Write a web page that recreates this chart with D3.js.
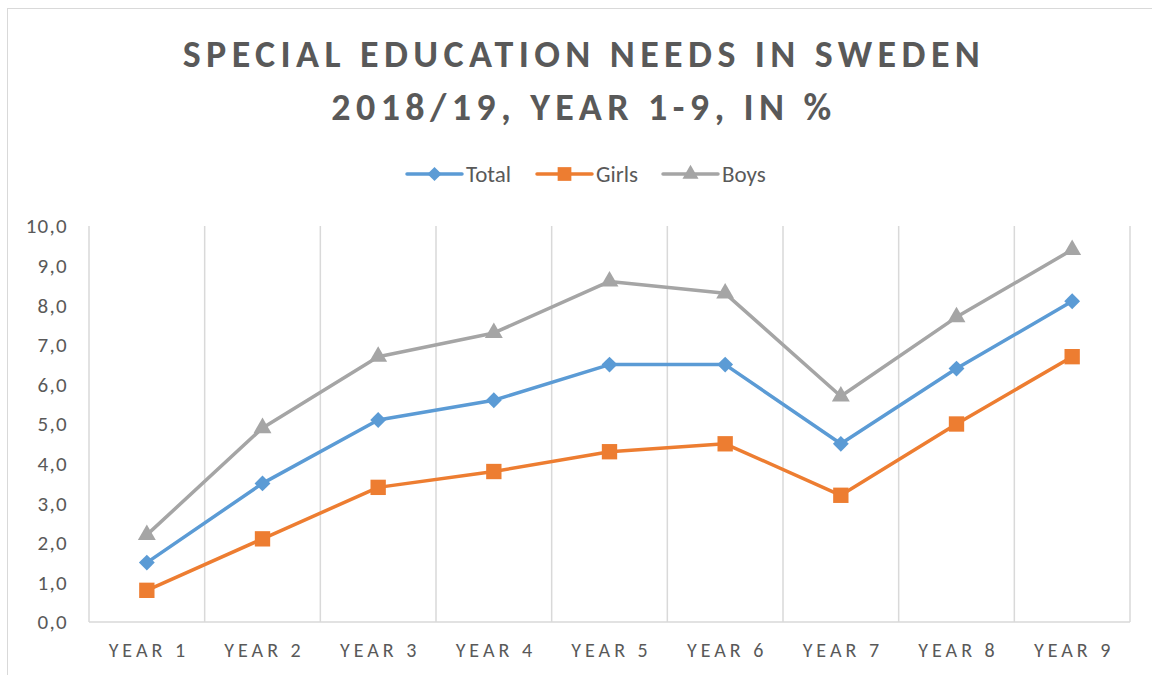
<!DOCTYPE html>
<html><head><meta charset="utf-8">
<script src="https://cdn.jsdelivr.net/npm/d3@7"></script>
<style>body{margin:0;background:#fff;}svg{display:block;}</style>
</head><body>
<svg id="c" width="1152" height="675"></svg>
<script>
const categories = ["YEAR 1","YEAR 2","YEAR 3","YEAR 4","YEAR 5","YEAR 6","YEAR 7","YEAR 8","YEAR 9"];
const totalValues = [1.5, 3.5, 5.1, 5.6, 6.5, 6.5, 4.5, 6.4, 8.1];
const girlsValues = [0.8, 2.1, 3.4, 3.8, 4.3, 4.5, 3.2, 5.0, 6.7];
const boysValues  = [2.2, 4.9, 6.7, 7.3, 8.6, 8.3, 5.7, 7.7, 9.4];
const yTicks = [0,1,2,3,4,5,6,7,8,9,10];
const seriesNames = ["Total","Girls","Boys"];
const titleLines = ["SPECIAL EDUCATION NEEDS IN SWEDEN","2018/19, YEAR 1-9, IN %"];

const series = [
  {name: seriesNames[0], values: totalValues, color: "#5b9bd5", symbol: d3.symbolDiamond2, size: 160},
  {name: seriesNames[1], values: girlsValues, color: "#ed7d31", symbol: d3.symbolSquare2, size: 300},
  {name: seriesNames[2], values: boysValues,  color: "#a5a5a5", symbol: d3.symbolTriangle2, size: 230}
];

const svg = d3.select("#c");
const font = "Calibri, Carlito, 'Open Sans', sans-serif";

// outer border
svg.append("rect").attr("x",7.5).attr("y",8.5).attr("width",1150).attr("height",680)
  .attr("fill","none").attr("stroke","#d9d9d9").attr("stroke-width",1);

const L = 89, R = 1130, T = 226, B = 622;
const x = d3.scaleBand().domain(categories).range([L,R]).padding(0);
const y = d3.scaleLinear().domain([0,10]).range([B,T]);

// vertical gridlines at band boundaries
const bounds = categories.map(c => x(c)).concat([R]);
svg.append("g").selectAll("line").data(bounds).join("line")
  .attr("x1",d=>d).attr("x2",d=>d).attr("y1",T).attr("y2",B)
  .attr("stroke","#d9d9d9").attr("stroke-width",1.5);

// x axis line
svg.append("line").attr("x1",L).attr("x2",R).attr("y1",B).attr("y2",B)
  .attr("stroke","#d9d9d9").attr("stroke-width",1.5);

// y tick labels
svg.append("g").selectAll("text").data(yTicks).join("text")
  .attr("x",68).attr("y",d=>y(d)).attr("dy","0.35em")
  .attr("text-anchor","end").attr("fill","#595959")
  .style("font-family",font).style("font-size","21px").style("letter-spacing","1.3px")
  .text(d=>d.toFixed(1).replace(".",","));

// x tick labels
svg.append("g").selectAll("text").data(categories).join("text")
  .attr("x",d=>x(d)+x.bandwidth()/2+2).attr("y",657)
  .attr("text-anchor","middle").attr("fill","#595959")
  .style("font-family",font).style("font-size","20px").style("letter-spacing","4px")
  .text(d=>d);

// lines and markers
const cx = i => x(categories[i]) + x.bandwidth()/2;
const line = d3.line().x((d,i)=>cx(i)).y(d=>y(d));
series.forEach(s=>{
  svg.append("path").datum(s.values).attr("d",line)
    .attr("fill","none").attr("stroke",s.color).attr("stroke-width",3.5)
    .attr("stroke-linejoin","round");
  svg.append("g").selectAll("path").data(s.values).join("path")
    .attr("transform",(d,i)=>`translate(${cx(i)},${y(d)})`)
    .attr("d",d3.symbol().type(s.symbol).size(s.size)())
    .attr("fill",s.color);
});

// title
svg.append("g").selectAll("text").data(titleLines).join("text")
  .attr("x",584).attr("y",(d,i)=>67+i*53)
  .attr("text-anchor","middle").attr("fill","#595959")
  .style("font-family",font).style("font-size","38px").style("font-weight","bold")
  .style("letter-spacing","5.4px")
  .text(d=>d);

// legend
const legX = [407, 537, 663];
series.forEach((s,i)=>{
  const g = svg.append("g").attr("transform",`translate(${legX[i]},174)`);
  g.append("line").attr("x1",0).attr("x2",55).attr("y1",0).attr("y2",0)
    .attr("stroke",s.color).attr("stroke-width",3.5).attr("stroke-linecap","round");
  g.append("path").attr("transform","translate(27.5,0)")
    .attr("d",d3.symbol().type(s.symbol).size(s.size*0.8)()).attr("fill",s.color);
  g.append("text").attr("x",59).attr("y",8)
    .attr("fill","#595959").style("font-family",font).style("font-size","23px")
    .text(s.name);
});
</script>
</body></html>
